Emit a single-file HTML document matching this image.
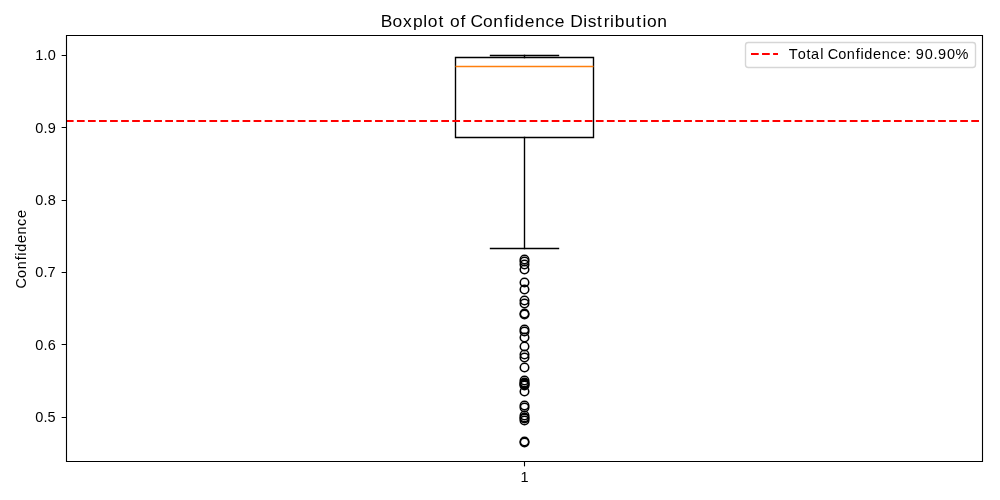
<!DOCTYPE html>
<html><head><meta charset="utf-8"><title>Boxplot of Confidence Distribution</title>
<style>
html,body{margin:0;padding:0;background:#fff;}
body{width:1000px;height:500px;overflow:hidden;}
svg{display:block;font-family:"Liberation Sans", sans-serif;fill:#000;will-change:transform;}
</style></head>
<body>
<svg width="1000" height="500" viewBox="0 0 1000 500">
<rect width="1000" height="500" fill="#fff"/>
<path d="M61.64 55.5H66.5M61.64 127.5H66.5M61.64 200.5H66.5M61.64 272.5H66.5M61.64 344.5H66.5M61.64 417.5H66.5" stroke="#000" stroke-width="1.11"/>
<path d="M524.5 461.5V466.36" stroke="#000" stroke-width="1.11"/>
<text x="35.29 43.57 47.74" y="60.0" font-size="14.5">1.0</text>
<text x="35.17 43.45 47.65" y="133.0" font-size="14.5">0.9</text>
<text x="35.17 43.43 47.66" y="205.0" font-size="14.5">0.8</text>
<text x="35.16 43.41 47.61" y="277.0" font-size="14.5">0.7</text>
<text x="35.16 43.41 47.63" y="350.0" font-size="14.5">0.6</text>
<text x="35.16 43.39 47.55" y="422.0" font-size="14.5">0.5</text>
<text x="520.44" y="482.0" font-size="14.5">1</text>
<g transform="translate(0,500) rotate(-90)"><text x="211.64 222.03 230.70 239.72 244.32 248.15 256.94 265.62 274.05 281.92" y="25.8" font-size="14.5">Confidence</text></g>
<text x="380.75 392.57 403.06 412.94 423.35 427.87 438.62 444.35 449.92 460.59 465.73 470.47 482.94 493.36 504.18 509.71 514.31 524.87 535.29 545.41 554.87 564.81 570.28 583.35 587.70 597.09 603.67 610.07 614.87 625.31 636.28 642.40 646.91 657.33" y="26.8" font-size="17.4">Boxplot of Confidence Distribution</text>
<path d="M455.5 57.5H593.5V137.5H455.5Z" fill="none" stroke="#000" stroke-width="1.39" stroke-linejoin="miter"/>
<path d="M524.5 137.5V248.5M524.5 57.5V55.5" stroke="#000" stroke-width="1.39" stroke-linecap="square"/>
<path d="M490.5 248.5H558.5M490.5 55.5H558.5" stroke="#000" stroke-width="1.39" stroke-linecap="square"/>
<g fill="none" stroke="#000" stroke-width="1.55"><circle cx="524.5" cy="259.5" r="4.25"/><circle cx="524.5" cy="261.5" r="4.25"/><circle cx="524.5" cy="264.5" r="4.25"/><circle cx="524.5" cy="269.5" r="4.25"/><circle cx="524.5" cy="282.5" r="4.25"/><circle cx="524.5" cy="289.5" r="4.25"/><circle cx="524.5" cy="300.5" r="4.25"/><circle cx="524.5" cy="303.5" r="4.25"/><circle cx="524.5" cy="313.5" r="4.25"/><circle cx="524.5" cy="314.5" r="4.25"/><circle cx="524.5" cy="329.5" r="4.25"/><circle cx="524.5" cy="331.5" r="4.25"/><circle cx="524.5" cy="337.5" r="4.25"/><circle cx="524.5" cy="346.5" r="4.25"/><circle cx="524.5" cy="354.5" r="4.25"/><circle cx="524.5" cy="357.5" r="4.25"/><circle cx="524.5" cy="367.5" r="4.25"/><circle cx="524.5" cy="380.5" r="4.25"/><circle cx="524.5" cy="382.5" r="4.25"/><circle cx="524.5" cy="383.5" r="4.25"/><circle cx="524.5" cy="384.5" r="4.25"/><circle cx="524.5" cy="385.5" r="4.25"/><circle cx="524.5" cy="391.5" r="4.25"/><circle cx="524.5" cy="405.5" r="4.25"/><circle cx="524.5" cy="407.5" r="4.25"/><circle cx="524.5" cy="415.5" r="4.25"/><circle cx="524.5" cy="417.5" r="4.25"/><circle cx="524.5" cy="418.5" r="4.25"/><circle cx="524.5" cy="420.5" r="4.25"/><circle cx="524.5" cy="441.5" r="4.25"/><circle cx="524.5" cy="442.5" r="4.25"/></g>
<path d="M455.5 66.5H593.5" stroke="#ff7f0e" stroke-width="1.39"/>
<path d="M66 121H982.1" stroke="#ff0000" stroke-width="2.08" stroke-dasharray="7.708 3.333" stroke-dashoffset="0.1"/>
<path d="M66.5 35.5H982.5V461.5H66.5Z" fill="none" stroke="#000" stroke-width="1.11" stroke-linecap="square" stroke-linejoin="miter"/>
<rect x="745.5" y="42.5" width="230" height="25" rx="2.78" ry="2.78" fill="#fff" fill-opacity="0.8" stroke="#cccccc" stroke-opacity="0.8" stroke-width="1.39"/>
<path d="M751 54.0H778.0" stroke="#ff0000" stroke-width="2.08" stroke-dasharray="7.708 3.333"/>
<text x="788.76 797.66 806.62 811.11 820.25 823.79 827.75 838.15 846.84 855.86 860.48 864.31 873.12 881.81 890.25 898.14 906.75 911.11 915.87 924.77 933.42 938.00 946.89 955.51" y="58.7" font-size="14.5">Total Confidence: 90.90%</text>
</svg>
</body></html>
